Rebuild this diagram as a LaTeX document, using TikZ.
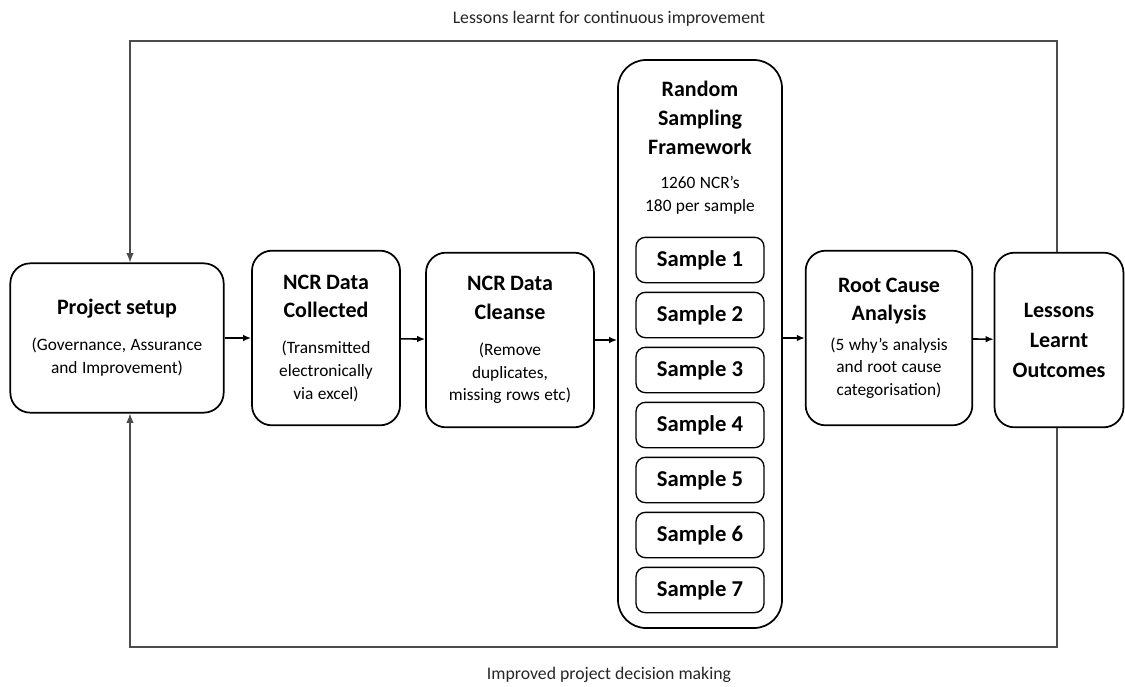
\documentclass[tikz,border=0pt]{standalone}
\usepackage{fontspec}
\setmainfont{Carlito}
\usetikzlibrary{arrows.meta}
\newcommand{\boxtitle}[1]{{\fontsize{16.5}{21.5}\selectfont\bfseries #1\par}}
\newcommand{\boxnote}[1]{{\fontsize{13}{17}\selectfont #1\par}}
\begin{document}
\begin{tikzpicture}[x=0.75pt, y=-0.75pt, -{Latex[length=6pt,width=5pt]}, line width=1.2pt,
    main node/.style={draw, rounded corners=15pt, line width=1.3pt, align=center},
    sample node/.style={draw, rounded corners=7pt, line width=1pt, minimum width=96pt, minimum height=34pt, font=\fontsize{17}{20}\selectfont\bfseries},
    loop line/.style={draw=black!70, line width=0.8pt, -{Latex[length=7pt,width=5.5pt]}},
    loop label/.style={font=\fontsize{13.3}{16}\selectfont, text=black!85}]
    \useasboundingbox (0,0) rectangle (1125,686);
    \node[main node, minimum width=160pt, minimum height=112pt, text width=150pt] (1) at (117,338)
        {\boxtitle{Project setup}\vspace{10pt}\boxnote{(Governance, Assurance\\and Improvement)}};
    \node[main node, minimum width=111pt, minimum height=131pt, text width=104pt] (2) at (326,338)
        {\boxtitle{NCR Data\\Collected}\vspace{10pt}\boxnote{(Transmitted\\electronically\\via excel)}};
    \node[main node, minimum width=126pt, minimum height=131pt, text width=118pt] (3) at (510,340)
        {\boxtitle{NCR Data\\Cleanse}\vspace{10pt}\boxnote{(Remove\\duplicates,\\missing rows etc)}};
    \node[main node, rounded corners=21pt, minimum width=123pt, minimum height=426pt] (4) at (700,344) {};
    \node[align=center, text width=115pt, anchor=north] (4t) at (700,76)
        {\boxtitle{Random\\Sampling\\Framework}\vspace{9pt}\boxnote{1260 NCR’s\\180 per sample}};
    \foreach \i in {1,...,7}
        \node[sample node] (s\i) at (700,{260+55*(\i-1)}) {Sample \i};
    \node[main node, minimum width=125pt, minimum height=131pt, text width=118pt] (5) at (889,338)
        {\boxtitle{Root Cause\\Analysis}\vspace{5pt}\boxnote{(5 why’s analysis\\and root cause\\categorisation)}};
    \node[main node, minimum width=95pt, minimum height=131pt, text width=90pt] (6) at (1059,340)
        {\boxtitle{\fontsize{16.5}{22.5}\selectfont Lessons\\Learnt\\Outcomes}};
    \coordinate (top) at (609,41);
    \coordinate (bot) at (609,647);
    \path
        (1) edge (2)
        (2) edge (3)
        (3.east) edge (3.east -| 4.west)
        (5.west -| 4.east) edge (5.west)
        (5) edge (6);
    % feedback loops
    \draw[loop line] (6.north -| 1057,0) |- (top) -| ([xshift=9.75pt]1.north);
    \draw[loop line] (6.south -| 1057,0) |- (bot) -| ([xshift=9.75pt]1.south);
    \node[loop label, above=7pt] (t1) at (top) {Lessons learnt for continuous improvement};
    \node[loop label, below=11pt] (t2) at (bot) {Improved project decision making};
\end{tikzpicture}
\end{document}
